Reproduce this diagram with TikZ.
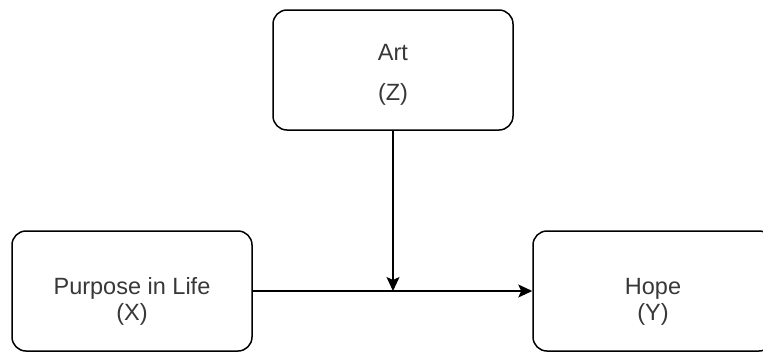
\documentclass[tikz,border=0pt]{standalone}
\usepackage{fontspec}
\setmainfont{Liberation Sans}
\usetikzlibrary{arrows.meta}

\tikzset{
  varbox/.style={draw=black, line width=1.5pt, rounded corners=14pt,
    minimum width=240pt, minimum height=120pt, inner sep=0pt, fill=white},
  lbl/.style={text=black!78, font=\fontsize{23.5}{28}\selectfont, inner sep=0pt, anchor=base},
  link/.style={draw=black, line width=1.5pt,
    -{Stealth[length=14pt, width=13pt, inset=3pt]}}
}

\begin{document}
\begin{tikzpicture}[x=1pt, y=-1pt]
  \useasboundingbox (0,0) rectangle (763,354);
  \clip (0,0) rectangle (763,354);

  % moderator, predictor and outcome boxes
  \node[varbox] (Z) at (393,70)  {};
  \node[varbox] (X) at (132,291) {};
  \node[varbox] (Y) at (653,291) {};

  % box labels
  \node[lbl] (zname) at ([yshift=10pt]Z.center)  {Art};
  \node[lbl] (zsym)  at ([yshift=-30pt]Z.center) {(Z)};
  \node[lbl] (xname) at ([yshift=-3pt]X.center)  {Purpose in Life};
  \node[lbl] (xsym)  at ([yshift=-29pt]X.center) {(X)};
  \node[lbl] (yname) at ([yshift=-3pt]Y.center)  {Hope};
  \node[lbl] (ysym)  at ([yshift=-29pt]Y.center) {(Y)};

  % direct path X -> Y and moderation arrow onto it
  \coordinate (mid) at (Z.south |- X.east);
  \draw[link] (X.east) -- (Y.west);
  \draw[link] (Z.south) -- (mid);
\end{tikzpicture}
\end{document}
